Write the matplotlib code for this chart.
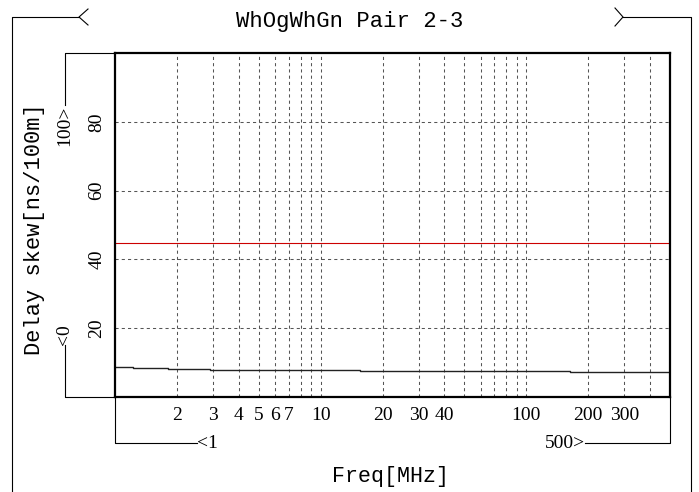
import matplotlib
matplotlib.use('Agg')
import matplotlib.pyplot as plt
import numpy as np

plt.rcParams['font.family'] = ['Liberation Serif', 'DejaVu Serif']

# data
freq = [1, 1.22, 1.82, 2.9, 5.57, 15.5, 163, 500]
skew = [8.81, 8.43, 8.14, 7.94, 7.76, 7.56, 7.27, 7.27]
limit_freq = [1, 500]
limit_skew = [44.8, 44.8]

xtick_vals = [2, 3, 4, 5, 6, 7, 10, 20, 30, 40, 100, 200, 300]
xtick_labels = ['2', '3', '4', '5', '6', '7', '10', '20', '30', '40', '100', '200', '300']
xgrid_vals = [2, 3, 4, 5, 6, 7, 8, 9, 10, 20, 30, 40, 50, 60, 70, 80, 90, 100, 200, 300, 400]
ytick_vals = [20, 40, 60, 80]
ytick_labels = ['20', '40', '60', '80']

title = 'WhOgWhGn Pair 2-3'
xlabel = 'Freq[MHz]'
ylabel = 'Delay skew[ns/100m]'

W, H = 699, 492
fig = plt.figure(figsize=(W / 100, H / 100), dpi=100)

# main plot, placed in pixels
L, R, T, B = 115, 670, 53, 397
ax = fig.add_axes([L / W, 1 - B / H, (R - L) / W, (B - T) / H])
ax.set_xscale('log')
ax.set_xlim(1, 500)
ax.set_ylim(0, 100)

ax.plot(limit_freq, limit_skew, color='#cc0000', lw=0.8)
ax.plot(freq, skew, color='#222222', lw=1.0, drawstyle='steps-post')

ax.set_xticks(xgrid_vals, minor=True)
ax.set_xticks(xtick_vals)
ax.set_xticklabels(xtick_labels, fontsize=14)
ax.xaxis.set_minor_formatter(matplotlib.ticker.NullFormatter())
ax.set_yticks(ytick_vals)
ax.set_yticklabels(ytick_labels, fontsize=14, rotation=90, va='center')
ax.tick_params(which='both', length=0)
ax.tick_params(axis='x', pad=7.5)
ax.tick_params(axis='y', pad=7)
ax.grid(which='both', axis='x', color='#555555', lw=0.75, ls=(0, (3, 3)))
ax.grid(which='major', axis='y', color='#555555', lw=0.75, ls=(0, (3, 3)))
for s in ax.spines.values():
    s.set_linewidth(1.6)

# overlay in pixel coords for frame lines and labels
ov = fig.add_axes([0, 0, 1, 1], zorder=-1)
ov.set_xlim(0, W)
ov.set_ylim(H, 0)
ov.axis('off')

lk = dict(color='black', lw=0.8)
# outer frame
ov.plot([88, 79, 88], [9, 17, 25], **lk)
ov.plot([79, 12, 12], [17, 17, H], **lk)
ov.plot([615, 623, 615], [8, 17, 26], **lk)
ov.plot([623, 691, 691], [17, 17, H], **lk)
# y range bracket
ov.plot([L, 65, 65], [T, T, 105], **lk)
ov.plot([65, 65, L], [345, B, B], **lk)
# x range bracket
ov.plot([L, L, 197], [B, 443, 443], **lk)
ov.plot([585, R, R], [443, 443, B], **lk)

ov.text(69, 106, '100>', fontsize=14, rotation=90, rotation_mode='anchor', ha='right', va='baseline')
ov.text(69, 345, '<0', fontsize=14, rotation=90, rotation_mode='anchor', ha='left', va='baseline')
ov.text(197, 448, '<1', fontsize=14, ha='left', va='baseline')
ov.text(585, 448, '500>', fontsize=14, ha='right', va='baseline')

mono = ['Liberation Mono', 'DejaVu Sans Mono']
ov.text(350, 27, title, fontsize=16, family=mono, ha='center', va='baseline')
ov.text(390, 482, xlabel, fontsize=15.6, family=mono, ha='center', va='baseline')
ov.text(40, 229, ylabel, fontsize=15.8, family=mono, ha='center', va='baseline',
        rotation=90, rotation_mode='anchor')

fig.savefig('out.png', dpi=100)
